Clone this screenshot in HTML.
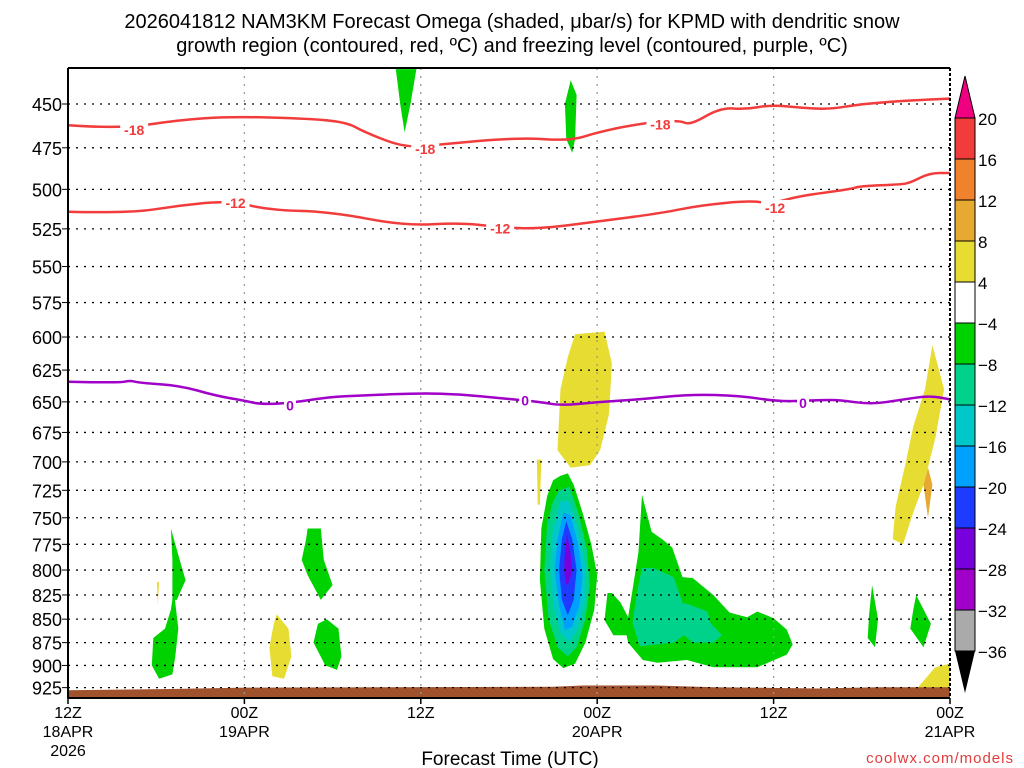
<!DOCTYPE html>
<html><head><meta charset="utf-8"><style>
html,body{margin:0;padding:0;background:#fff;}
svg{display:block;font-family:"Liberation Sans",sans-serif;}
</style></head><body>
<svg id="chart" width="1024" height="768" viewBox="0 0 1024 768" xmlns="http://www.w3.org/2000/svg">
<rect width="1024" height="768" fill="#fff"/>
<text x="512" y="28" text-anchor="middle" font-size="20" fill="#000">2026041812 NAM3KM Forecast Omega (shaded, μbar/s) for KPMD with dendritic snow</text>
<text x="512" y="52" text-anchor="middle" font-size="20" fill="#000">growth region (contoured, red, ºC) and freezing level (contoured, purple, ºC)</text>
<g id="plot"></g>
<g id="cbar"></g>
<text x="510" y="765" text-anchor="middle" font-size="19" fill="#000">Forecast Time (UTC)</text>
<text x="1014" y="763" text-anchor="end" font-size="15" fill="#e23c3c" letter-spacing="1">coolwx.com/models</text>
</svg>
<script>
const pTicks=[450,475,500,525,550,575,600,625,650,675,700,725,750,775,800,825,850,875,900,925];
const hTicks=[0,12,24,36,48,60];
const hLabels=[["12Z","18APR","2026"],["00Z","19APR"],["12Z"],["00Z","20APR"],["12Z"],["00Z","21APR"]];
const cbLevels=["20","16","12","8","4","-4","-8","-12","-16","-20","-24","-28","-32","-36"];
const cbColors=["#f23c3c","#f0822c","#e6aa32","#e6dc32","#ffffff","#00d200","#00d28c","#00c8c8","#00a0ff","#1e3cff","#7800dc","#a000c8","#aaaaaa"];
const m18H=[0,3.5,7.6,11,15.8,18.9,20.2,22.9,25.3,30.7,34.2,36,38.9,41.6,42.3,44.4,46.1,47.8,49.8,51.8,53.9,57.3,60];
const m18P=[462,464,459,457,458,460,466,475,473,469,471,466,461,459,462,452,453,450.5,452,453,450,448,447];
const m12H=[0,4.2,7.6,11,13.7,17.8,22.9,26.7,29.4,32.1,36.2,40.3,43,46.4,47.8,49.8,53.2,53.9,56.6,57.3,58.6,60];
const m12P=[514,515,510,507,513,514,523,521,524,525,520,515,510,507,509,504,500,498,497,496,490,490];
const f0H=[0,3.5,4.2,4.9,7.6,10,12,13.1,15.1,17.8,19.9,24,26.7,29.4,32.1,33.5,36.2,38.9,42.3,45.7,48.4,51.2,52.5,54.6,56.6,58.6,60];
const f0P=[634,635,633,635,637,645,649,652,651,646,645,643,644,647,650,653,650,648,644,645,650,648.5,648.5,652,648.5,645,648];
const labels18=[[4.5,464],[24.3,475],[40.3,461]];
const labels12=[[11.4,508],[29.4,524],[48.1,511]];
const labels0=[[15.1,652],[31.1,648],[50,650]];
const regions=[
 [5,[22.3,23.7,23.3,22.9,22.6],[431,431,450,466,450]],
 [5,[34.2,34.6,34.5,34.3,33.9,33.8],[437,445,470,478,470,450]],
 [3,[34.5,36.5,37,36.8,36.2,35.5,34.2,33.3,33.5,34],[598,596,620,660,690,703,705,690,640,615]],
 [3,[31.9,32.2,32.1,31.95],[698,698,738,738]],
 [3,[58.8,59.6,59,58.2,57.5,56.8,56.1,56.3,57,57.5,58.3],[606,640,680,720,745,775,770,740,700,670,640]],
 [2,[58.5,58.8,58.5,58.2],[705,720,750,720]],
 [3,[57.8,60,60,59],[925,925,898,902]],
 [5,[7.0,7.6,8.0,7.4,7.1,7.1],[760,790,810,830,830,790]],
 [5,[7.2,7.5,7.3,7.1,6.2,5.7,5.8,6.6,7],[820,860,890,910,915,900,870,860,840]],
 [3,[6.05,6.2,6.1],[812,812,835]],
 [3,[14.2,15,15.2,14.7,13.9,13.7,14],[845,860,890,915,912,880,855]],
 [5,[16.3,17.2,17.4,18,17.2,16.3,15.9,16.2],[760,760,790,815,830,805,790,770]],
 [5,[17.6,18.4,18.6,18.3,17.5,16.7,17],[850,860,890,905,900,875,855]],
 [5,[33.5,34,34.4,35,35.6,36,35.8,35.2,34.5,33.7,33,32.4,32.1,32.2,32.6,33],[712,710,720,745,775,805,840,875,898,903,893,860,810,760,730,716]],
 [6,[33.4,34.1,34.7,35.3,35.5,35.2,34.6,34,33.3,32.7,32.4,32.6,33],[725,722,745,780,815,850,880,890,880,850,800,755,735]],
 [7,[33.5,34.1,34.7,35.2,35.2,34.7,34.1,33.5,33,32.8,33],[735,735,760,795,830,860,875,865,835,795,760]],
 [8,[33.7,34.2,34.7,35,34.8,34.3,33.8,33.4,33.1,33.3],[745,748,775,805,835,858,862,835,800,770]],
 [9,[33.9,34.3,34.6,34.4,34,33.6,33.4,33.6],[753,770,800,830,846,830,800,770]],
 [10,[33.95,34.2,34.3,34.1,33.9,33.75,33.8],[765,785,800,812,815,800,785]],
 [5,[39.05,39.7,40.5,41.1,41.8,42.5,43.9,45,46.2,46.9,48,48.9,49.3,48.9,46.9,43.9,42.1,40.1,39.1,38.1,38,37.1,36.5,36.7,37,37.6,38.1,38.4,38.8],
    [729,763,771,778,807,808,825,843,848,842,849,861,877,888,902,902,894,897,894,875,867,867,851,823,823,833,848,820,783]],
 [6,[39.05,39.8,41.2,41.8,42.3,43.5,43.7,44.5,43.9,42.5,41.9,41.2,38.9,38.4,38.7],[798,798,807,833,835,842,854,867,875,875,867,875,879,854,823]],
 [5,[54.7,55.1,54.9,54.4,54.5],[815,850,880,870,845]],
 [5,[57.7,58.7,58.2,57.3,57.5],[825,855,880,860,840]]
];
const groundH=[0,7,12,33,35,40,44,51,55,60];
const groundP=[928,926.5,925,924,922.5,922.5,924.5,926,924.5,924.5];

const X0=68,X1=950,Y0=68,Y1=698,HMAX=60;
const LNP0=Math.log(450),PY0=104,PSC=810;
const xs=h=>X0+h*(X1-X0)/HMAX;
const ys=p=>PY0+(Math.log(p)-LNP0)*PSC;
const NS="http://www.w3.org/2000/svg";
function mk(tag,attrs,parent){const e=document.createElementNS(NS,tag);for(const k in attrs)e.setAttribute(k,attrs[k]);parent.appendChild(e);return e;}
const plot=document.getElementById('plot');
const cp=mk('clipPath',{id:'clip'},plot);mk('rect',{x:X0,y:Y0,width:X1-X0,height:Y1-Y0},cp);
const shade=mk('g',{'clip-path':'url(#clip)'},plot);


regions.forEach((r,i)=>{
 const pts=r[1].map((h,j)=>xs(h).toFixed(1)+','+ys(r[2][j]).toFixed(1)).join(' ');
 const e=mk('polygon',{points:pts,fill:cbColors[r[0]]},shade);
 
 
});
{let pts=groundH.map((h,j)=>xs(h).toFixed(1)+','+ys(groundP[j]).toFixed(1));pts.push(X1+','+Y1,X0+','+Y1);
 const g=mk('polygon',{points:pts.join(' '),fill:'#a0522d'},shade);
 
 }
pTicks.forEach(p=>{const y=ys(p);
 const l=mk('line',{x1:X0,x2:X1,y1:y,y2:y,stroke:'#000','stroke-width':1.3,'stroke-dasharray':'2,6'},plot);
 
 
 mk('line',{x1:X0-6,x2:X0,y1:y,y2:y,stroke:'#000','stroke-width':1},plot);
 const t=mk('text',{x:X0-6,y:y+7,'text-anchor':'end','font-size':18,fill:'#000'},plot);t.textContent=p;
 
 
});
hTicks.forEach((h,i)=>{const x=xs(h);
 if(i>0&&i<hTicks.length-1){const l=mk('line',{x1:x,x2:x,y1:Y0,y2:Y1,stroke:'#999','stroke-width':1.3,'stroke-dasharray':'2,6'},plot);
 
 }
 mk('line',{x1:x,x2:x,y1:Y1,y2:Y1+6,stroke:'#000','stroke-width':1.5},plot);
 hLabels[i].forEach((s,k)=>{const t=mk('text',{x:x,y:Y1+20+k*19,'text-anchor':'middle','font-size':16,fill:'#000'},plot);t.textContent=s;
 
 });
});
function line(H,P,color,name){
 const pts=H.map((h,j)=>[xs(h),ys(P[j])]);
 let d='M'+pts[0][0].toFixed(1)+','+pts[0][1].toFixed(1);
 for(let j=1;j<pts.length-1;j++){const mx=(pts[j][0]+pts[j+1][0])/2,my=(pts[j][1]+pts[j+1][1])/2;d+='Q'+pts[j][0].toFixed(1)+','+pts[j][1].toFixed(1)+' '+mx.toFixed(1)+','+my.toFixed(1);}
 const L=pts[pts.length-1];d+='L'+L[0].toFixed(1)+','+L[1].toFixed(1);
 const e=mk('path',{d:d,fill:'none',stroke:color,'stroke-width':2.5,'stroke-linejoin':'round'},plot);
 
 }
function lab(L,txt,color){L.forEach(([h,p])=>{const x=xs(h),y=ys(p);
 const w=txt.length*8+4;
 mk('rect',{x:x-w/2,y:y-7,width:w,height:14,fill:'#fff'},plot);
 const t=mk('text',{x:x,y:y+6,'text-anchor':'middle','font-size':14,'font-weight':'bold',fill:color},plot);t.textContent=txt;
 
 });}
line(m18H,m18P,'#f23c3c','contour-minus18');
line(m12H,m12P,'#f23c3c','contour-minus12');
line(f0H,f0P,'#a000c8','freezing-level');
lab(labels18,'-18','#f23c3c');lab(labels12,'-12','#f23c3c');lab(labels0,'0','#a000c8');
mk('line',{x1:X0,x2:X1,y1:Y0,y2:Y0,stroke:'#000','stroke-width':2},plot);
mk('line',{x1:X0,x2:X0,y1:Y0,y2:Y1,stroke:'#000','stroke-width':2},plot);
mk('line',{x1:X0,x2:X1,y1:Y1,y2:Y1,stroke:'#000','stroke-width':2},plot);
mk('line',{x1:X1,x2:X1,y1:Y0,y2:Y1,stroke:'#000','stroke-width':2,'stroke-dasharray':'3,2'},plot);
const cb=document.getElementById('cbar');
const CX=955,CW=20,CT=118,CH=41;
mk('polygon',{points:`${CX},${CT} ${CX+CW/2},76 ${CX+CW},${CT}`,fill:'#f00080',stroke:'#000','stroke-width':1},cb);
cbColors.forEach((c,i)=>{const r=mk('rect',{x:CX,y:CT+i*CH,width:CW,height:CH,fill:c,stroke:'#000','stroke-width':1},cb);
 
 });
const cbBot=CT+cbColors.length*CH;
mk('polygon',{points:`${CX},${cbBot} ${CX+CW/2},${cbBot+42} ${CX+CW},${cbBot}`,fill:'#000'},cb);
cbLevels.forEach((s,i)=>{const t=mk('text',{x:CX+CW+3,y:CT+i*CH+7,'font-size':17,fill:'#000'},cb);t.textContent=s.replace('-','−');
 
 });
</script>
</body></html>
